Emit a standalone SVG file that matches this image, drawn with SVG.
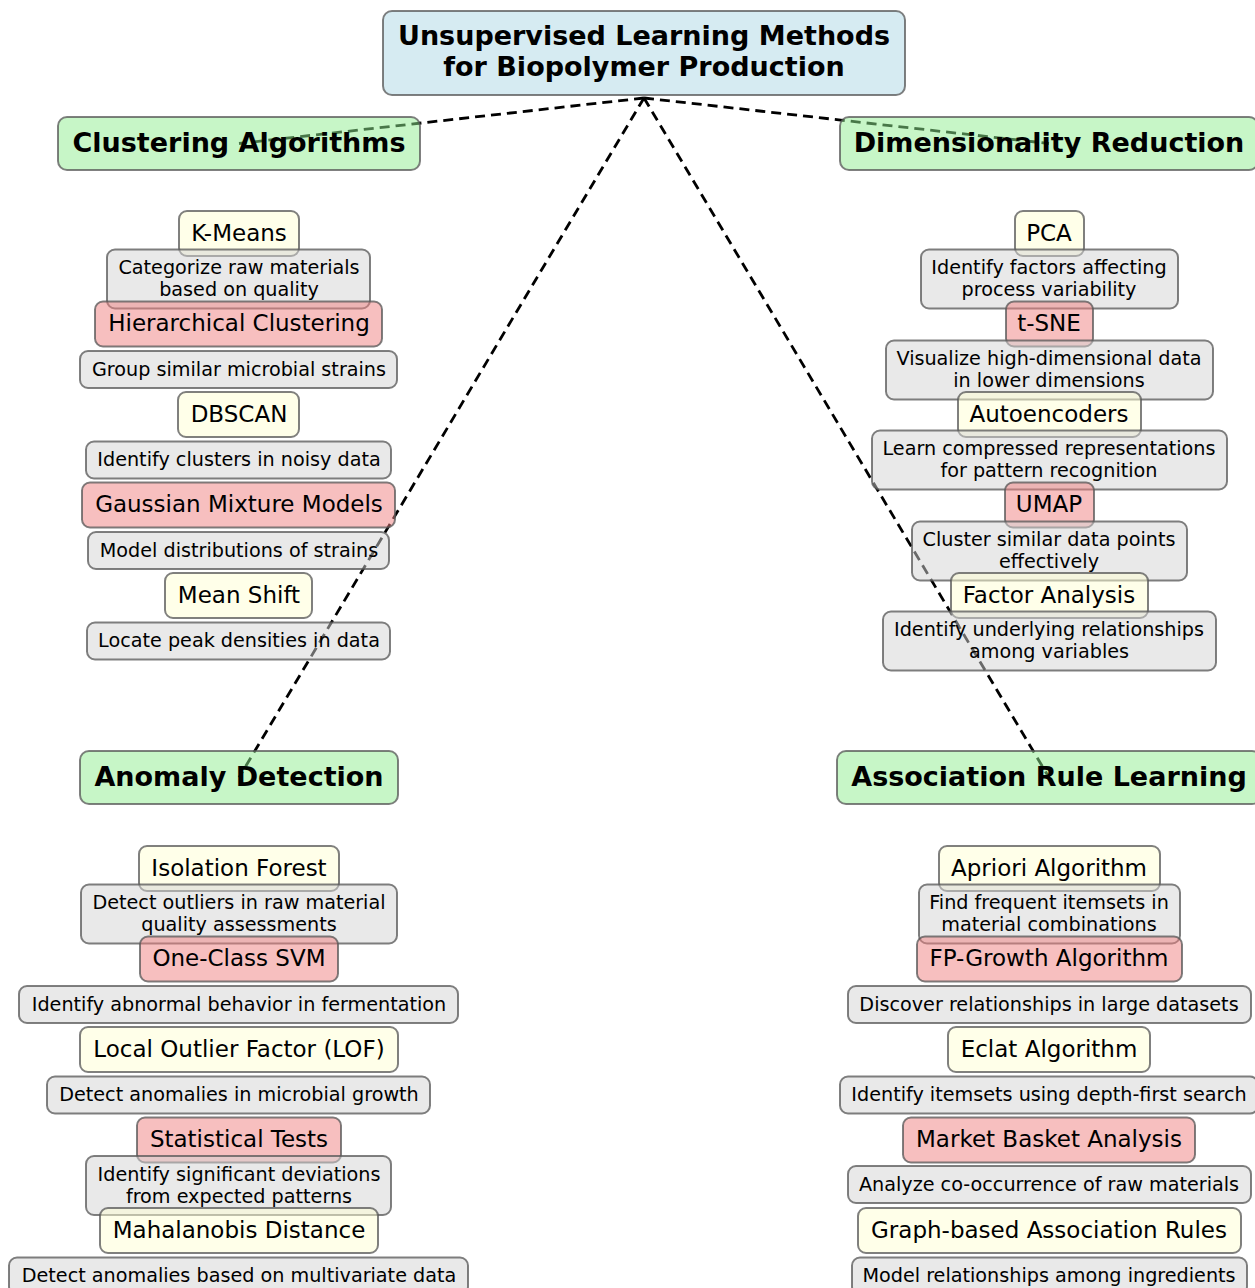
<svg xmlns="http://www.w3.org/2000/svg" width="1255" height="1288" viewBox="0 0 1255 1288">
<style>
rect{stroke:#555;stroke-opacity:0.75;stroke-width:2;}
.t{fill:#add8e6;fill-opacity:0.5;}
.h{fill:#90ee90;fill-opacity:0.5;}
.y{fill:#ffffd4;fill-opacity:0.5;}
.p{fill:#f08080;fill-opacity:0.5;}
.d{fill:#d3d3d3;fill-opacity:0.5;}
text{font-family:"DejaVu Sans","Liberation Sans",sans-serif;text-anchor:middle;fill:#000;}
.tt{font-size:27px;font-weight:bold;}
.ht{font-size:27px;font-weight:bold;}
.it{font-size:23px;}
.dt{font-size:19.2px;}
.e{stroke:#000;stroke-width:2.8;stroke-dasharray:10,6;fill:none;}
</style>
<rect width="1255" height="1288" fill="#fff" style="stroke:none"/>
<g id="connectors">
<line class="e" x1="644" y1="98" x2="239" y2="143.5"/>
<line class="e" x1="644" y1="98" x2="1049" y2="143.5"/>
<line class="e" x1="644" y1="98" x2="239" y2="777.5"/>
<line class="e" x1="644" y1="98" x2="1049" y2="777.5"/>
</g>
<g id="title"><rect class="t" x="383" y="11" width="522" height="84" rx="9"/><text class="tt" x="644" y="45">Unsupervised Learning Methods</text><text class="tt" x="644" y="76">for Biopolymer Production</text></g>
<g id="h-clustering"><rect class="h" x="58" y="117" width="362" height="53" rx="9"/><text class="ht" x="239" y="152">Clustering Algorithms</text></g>
<g id="h-dimred"><rect class="h" x="840" y="117" width="418" height="53" rx="9"/><text class="ht" x="1049" y="152">Dimensionality Reduction</text></g>
<g id="h-anomaly"><rect class="h" x="80" y="751" width="318" height="53" rx="9"/><text class="ht" x="239" y="786">Anomaly Detection</text></g>
<g id="h-assoc"><rect class="h" x="837" y="751" width="424" height="53" rx="9"/><text class="ht" x="1049" y="786">Association Rule Learning</text></g>

<g id="kmeans"><rect class="y" x="179" y="211" width="120" height="45" rx="8"/><text class="it" x="239" y="240.5">K-Means</text></g>
<g id="kmeans-d"><rect class="d" x="107" y="249.5" width="263" height="59" rx="8"/><text class="dt" x="239" y="274">Categorize raw materials</text><text class="dt" x="239" y="296">based on quality</text></g>
<g id="hier"><rect class="p" x="95" y="301.5" width="287" height="45" rx="8"/><text class="it" x="239" y="331">Hierarchical Clustering</text></g>
<g id="hier-d"><rect class="d" x="80" y="351" width="317" height="37" rx="8"/><text class="dt" x="239" y="375.5">Group similar microbial strains</text></g>
<g id="dbscan"><rect class="y" x="178" y="392" width="121" height="45" rx="8"/><text class="it" x="239" y="421.5">DBSCAN</text></g>
<g id="dbscan-d"><rect class="d" x="86" y="441.5" width="305" height="37" rx="8"/><text class="dt" x="239" y="466">Identify clusters in noisy data</text></g>
<g id="gmm"><rect class="p" x="82" y="482.5" width="313" height="45" rx="8"/><text class="it" x="239" y="512">Gaussian Mixture Models</text></g>
<g id="gmm-d"><rect class="d" x="88" y="532" width="301" height="37" rx="8"/><text class="dt" x="239" y="556.5">Model distributions of strains</text></g>
<g id="meanshift"><rect class="y" x="165" y="573" width="147" height="45" rx="8"/><text class="it" x="239" y="602.5">Mean Shift</text></g>
<g id="meanshift-d"><rect class="d" x="87" y="622.5" width="303" height="37" rx="8"/><text class="dt" x="239" y="647">Locate peak densities in data</text></g>

<g id="pca"><rect class="y" x="1015" y="211" width="69" height="45" rx="8"/><text class="it" x="1049" y="240.5">PCA</text></g>
<g id="pca-d"><rect class="d" x="921" y="249.5" width="257" height="59" rx="8"/><text class="dt" x="1049" y="274">Identify factors affecting</text><text class="dt" x="1049" y="296">process variability</text></g>
<g id="tsne"><rect class="p" x="1006" y="301.5" width="87" height="45" rx="8"/><text class="it" x="1049" y="331">t-SNE</text></g>
<g id="tsne-d"><rect class="d" x="886" y="340.5" width="327" height="59" rx="8"/><text class="dt" x="1049" y="364.5">Visualize high-dimensional data</text><text class="dt" x="1049" y="386.5">in lower dimensions</text></g>
<g id="autoenc"><rect class="y" x="958" y="392" width="183" height="45" rx="8"/><text class="it" x="1049" y="421.5">Autoencoders</text></g>
<g id="autoenc-d"><rect class="d" x="872" y="430.5" width="355" height="59" rx="8"/><text class="dt" x="1049" y="455">Learn compressed representations</text><text class="dt" x="1049" y="477">for pattern recognition</text></g>
<g id="umap"><rect class="p" x="1005" y="482.5" width="89" height="45" rx="8"/><text class="it" x="1049" y="512">UMAP</text></g>
<g id="umap-d"><rect class="d" x="912" y="521.5" width="275" height="59" rx="8"/><text class="dt" x="1049" y="545.5">Cluster similar data points</text><text class="dt" x="1049" y="567.5">effectively</text></g>
<g id="factor"><rect class="y" x="951" y="573" width="197" height="45" rx="8"/><text class="it" x="1049" y="602.5">Factor Analysis</text></g>
<g id="factor-d"><rect class="d" x="883" y="611.5" width="333" height="59" rx="8"/><text class="dt" x="1049" y="636">Identify underlying relationships</text><text class="dt" x="1049" y="658">among variables</text></g>

<g id="iforest"><rect class="y" x="139" y="846" width="200" height="45" rx="8"/><text class="it" x="239" y="875.5">Isolation Forest</text></g>
<g id="iforest-d"><rect class="d" x="81" y="884.5" width="316" height="59" rx="8"/><text class="dt" x="239" y="909">Detect outliers in raw material</text><text class="dt" x="239" y="931">quality assessments</text></g>
<g id="ocsvm"><rect class="p" x="140" y="936.5" width="198" height="45" rx="8"/><text class="it" x="239" y="966">One-Class SVM</text></g>
<g id="ocsvm-d"><rect class="d" x="19" y="986" width="439" height="37" rx="8"/><text class="dt" x="239" y="1010.5">Identify abnormal behavior in fermentation</text></g>
<g id="lof"><rect class="y" x="80" y="1027" width="318" height="45" rx="8"/><text class="it" x="239" y="1056.5">Local Outlier Factor (LOF)</text></g>
<g id="lof-d"><rect class="d" x="47" y="1076.5" width="383" height="37" rx="8"/><text class="dt" x="239" y="1101">Detect anomalies in microbial growth</text></g>
<g id="stat"><rect class="p" x="137" y="1117.5" width="204" height="45" rx="8"/><text class="it" x="239" y="1147">Statistical Tests</text></g>
<g id="stat-d"><rect class="d" x="86" y="1156" width="305" height="59" rx="8"/><text class="dt" x="239" y="1180.5">Identify significant deviations</text><text class="dt" x="239" y="1202.5">from expected patterns</text></g>
<g id="maha"><rect class="y" x="100" y="1208" width="278" height="45" rx="8"/><text class="it" x="239" y="1237.5">Mahalanobis Distance</text></g>
<g id="maha-d"><rect class="d" x="9" y="1257.5" width="459" height="37" rx="8"/><text class="dt" x="239" y="1282">Detect anomalies based on multivariate data</text></g>

<g id="apriori"><rect class="y" x="939" y="846" width="221" height="45" rx="8"/><text class="it" x="1049" y="875.5">Apriori Algorithm</text></g>
<g id="apriori-d"><rect class="d" x="919" y="884.5" width="261" height="59" rx="8"/><text class="dt" x="1049" y="909">Find frequent itemsets in</text><text class="dt" x="1049" y="931">material combinations</text></g>
<g id="fpgrowth"><rect class="p" x="917" y="936.5" width="265" height="45" rx="8"/><text class="it" x="1049" y="966">FP-Growth Algorithm</text></g>
<g id="fpgrowth-d"><rect class="d" x="848" y="986" width="403" height="37" rx="8"/><text class="dt" x="1049" y="1010.5">Discover relationships in large datasets</text></g>
<g id="eclat"><rect class="y" x="948" y="1027" width="202" height="45" rx="8"/><text class="it" x="1049" y="1056.5">Eclat Algorithm</text></g>
<g id="eclat-d"><rect class="d" x="840" y="1076.5" width="418" height="37" rx="8"/><text class="dt" x="1049" y="1101">Identify itemsets using depth-first search</text></g>
<g id="mba"><rect class="p" x="903" y="1117.5" width="292" height="45" rx="8"/><text class="it" x="1049" y="1147">Market Basket Analysis</text></g>
<g id="mba-d"><rect class="d" x="848" y="1166" width="403" height="37" rx="8"/><text class="dt" x="1049" y="1190.5">Analyze co-occurrence of raw materials</text></g>
<g id="graph"><rect class="y" x="858" y="1208" width="383" height="45" rx="8"/><text class="it" x="1049" y="1237.5">Graph-based Association Rules</text></g>
<g id="graph-d"><rect class="d" x="852" y="1257.5" width="395" height="37" rx="8"/><text class="dt" x="1049" y="1282">Model relationships among ingredients</text></g>
</svg>
